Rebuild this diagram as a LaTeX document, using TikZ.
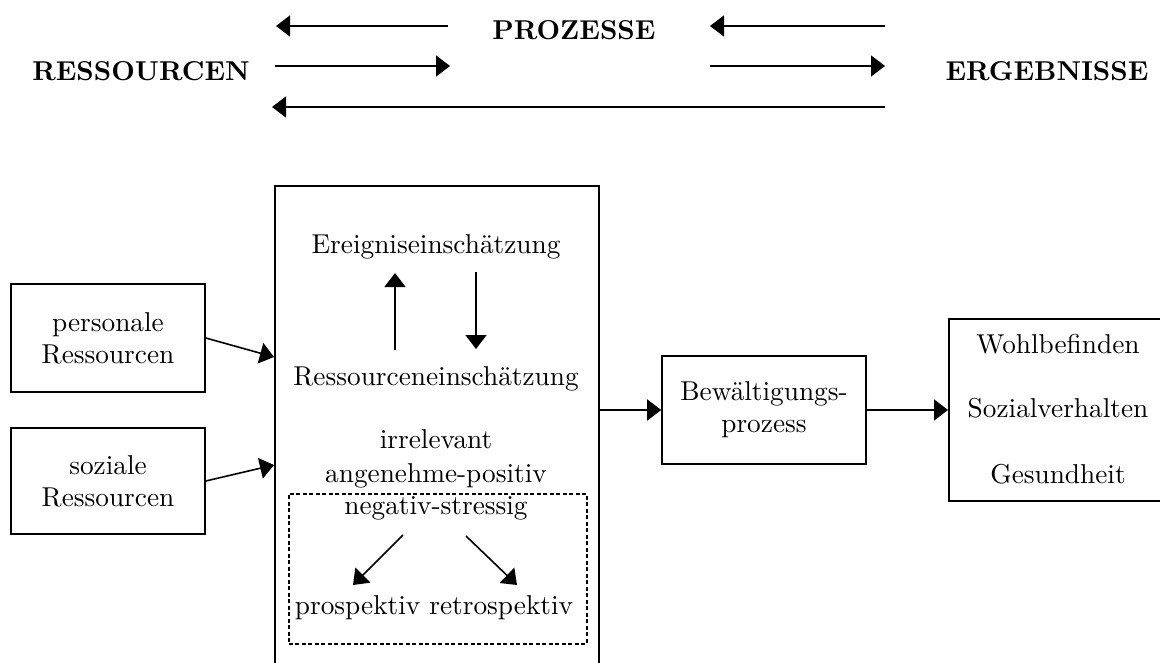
\documentclass[tikz,border=0pt]{standalone}
\usepackage{fontspec}
\setmainfont{lmroman10}[Extension=.otf, UprightFont=*-regular, BoldFont=*-bold]
\usetikzlibrary{arrows.meta}
\begin{document}
\begin{tikzpicture}[x=1pt,y=-1pt,
  txt/.style={font=\fontsize{27.3}{32}\selectfont, inner sep=0pt, align=center},
  head/.style={font=\fontsize{27.3}{32}\selectfont\bfseries, inner sep=0pt, anchor=base},
  lbl/.style={txt, anchor=base},
  frame/.style={draw, line width=1.6pt, inner sep=0pt},
  box/.style={frame, txt},
  arr/.style={line width=1.6pt, -{Triangle[length=14pt,width=21pt]}},
  dbox/.style={draw, line width=1.6pt, inner sep=0pt, dash pattern=on 4pt off 2.5pt}]
\clip (0,0) rectangle (1160,662);

% headings of the three columns
\node[head] (res)  at (141,80) {RESSOURCEN};
\node[head] (proz) at (574,39) {PROZESSE};
\node[head] (erg)  at (1047,80) {ERGEBNISSE};

% arrows of the top band
\coordinate (t1a) at (448,26);  \coordinate (t1b) at (276,26);
\coordinate (t2a) at (885,26);  \coordinate (t2b) at (710,26);
\coordinate (t3a) at (275,66);  \coordinate (t3b) at (450,66);
\coordinate (t4a) at (710,66);  \coordinate (t4b) at (885,66);
\coordinate (t5a) at (885,107); \coordinate (t5b) at (272,107);
\draw[arr] (t1a) -- (t1b);
\draw[arr] (t2a) -- (t2b);
\draw[arr] (t3a) -- (t3b);
\draw[arr] (t4a) -- (t4b);
\draw[arr] (t5a) -- (t5b);

% resources
\node[box, minimum width=194pt, minimum height=108pt] (pers) at (108,338) {personale\\Ressourcen};
\node[box, minimum width=194pt, minimum height=106pt] (soz)  at (108,481) {soziale\\Ressourcen};

% central appraisal box (runs past the lower edge)
\node[frame, minimum width=324pt, minimum height=520pt, anchor=north west] (main) at (274,185) {};

\node[lbl] (ereig) at (436,253) {Ereigniseinschätzung};
\node[lbl] (ress)  at (436,385) {Ressourceneinschätzung};
\coordinate (upa) at (395,350); \coordinate (upb) at (395,273);
\coordinate (dna) at (476,272); \coordinate (dnb) at (476,349);
\draw[arr] (upa) -- (upb);
\draw[arr] (dna) -- (dnb);

\node[lbl] (irr) at (436,448) {irrelevant};
\node[lbl] (ang) at (436,482) {angenehme-positiv};
\node[lbl] (neg) at (436,514) {negativ-stressig};

\node[dbox, minimum width=298pt, minimum height=150pt, anchor=north west] (dash) at (288,493) {};
\node[lbl] (pr) at (434,614) {prospektiv retrospektiv};
\coordinate (dla) at (403,535); \coordinate (dlb) at (353,585);
\coordinate (dra) at (466,536); \coordinate (drb) at (517,585);
\draw[arr] (dla) -- (dlb);
\draw[arr] (dra) -- (drb);

% coping and outcomes
\node[box, minimum width=204pt, minimum height=108pt] (bew) at (764,410) {Bewältigungs-\\prozess};
\node[frame, minimum width=240pt, minimum height=182pt, anchor=north west] (out) at (948,318) {};
\node[lbl] (wohl) at (1058,353) {Wohlbefinden};
\node[lbl] (sozv) at (1058,417) {Sozialverhalten};
\node[lbl] (ges)  at (1058,483) {Gesundheit};

% connectors
\draw[arr] (pers.east) -- (main.west |- 0,357);
\draw[arr] (soz.east) -- (main.west |- 0,465);
\draw[arr] (main.east |- bew.west) -- (bew.west);
\draw[arr] (bew.east) -- (out.west |- bew.east);
\end{tikzpicture}
\end{document}
